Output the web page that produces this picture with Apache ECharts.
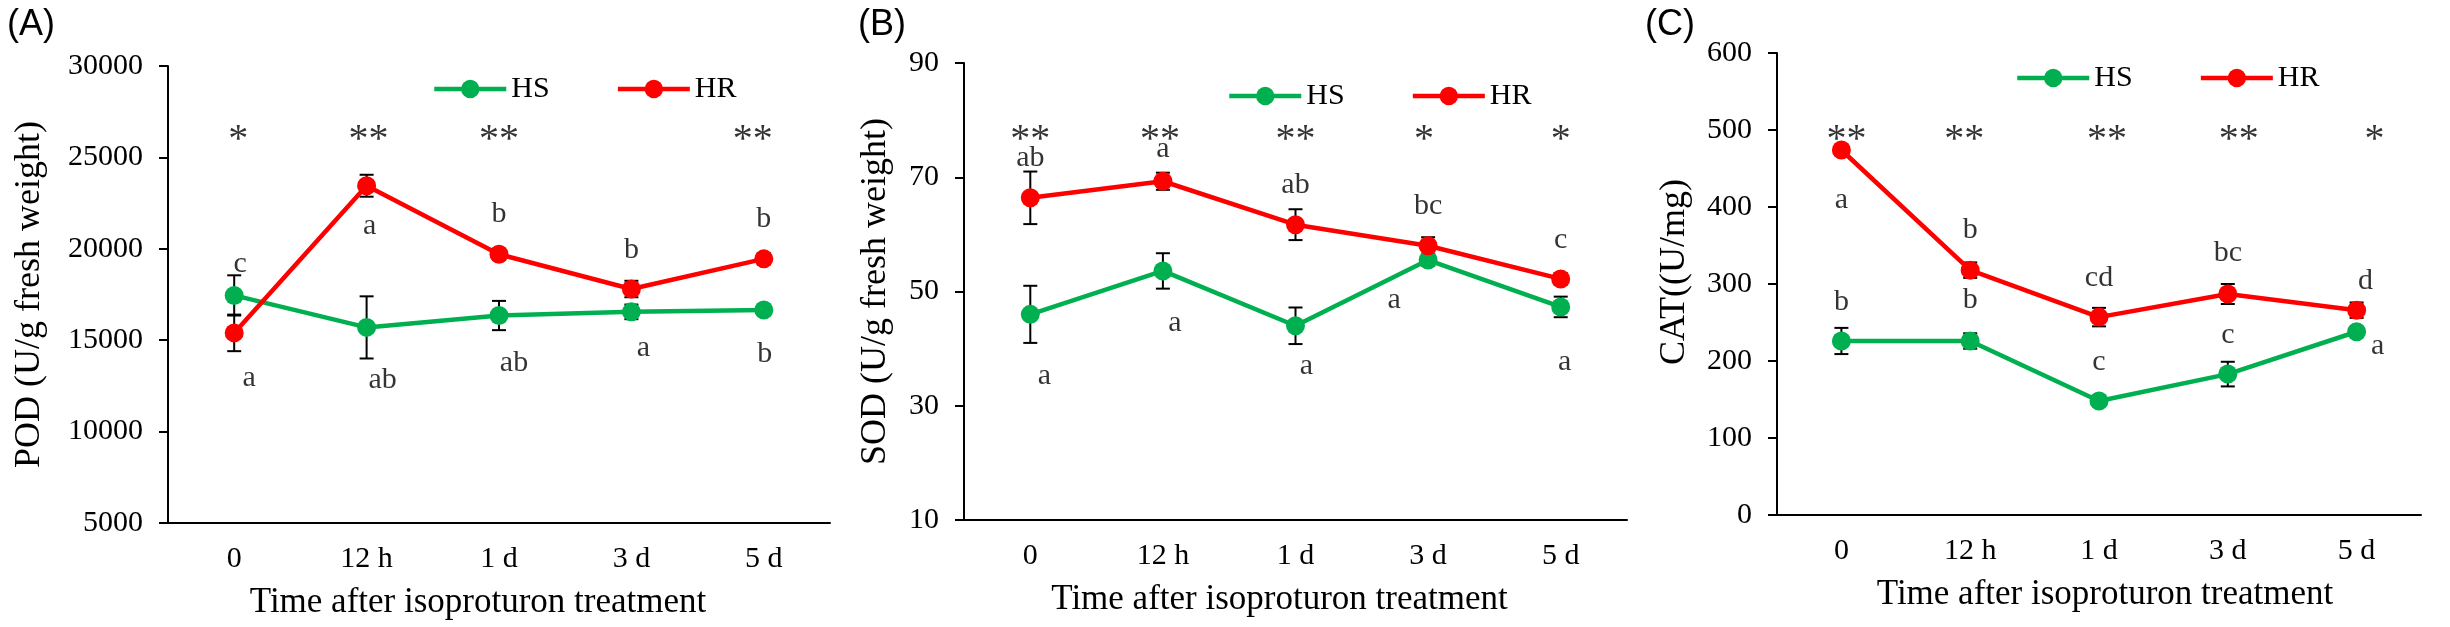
<!DOCTYPE html>
<html>
<head>
<meta charset="utf-8">
<script src="https://cdn.jsdelivr.net/npm/echarts@6/dist/echarts.min.js"></script>
<style>
  html, body { margin: 0; padding: 0; background: #fff; }
  #main { width: 2450px; height: 627px; }
</style>
</head>
<body>
<div id="main"></div>
<script>
// 横轴类别
var categories = ['0', '12 h', '1 d', '3 d', '5 d'];

// (A) POD
var podHS = [17450, 15700, 16350, 16550, 16650];
var podHSErr = [1100, 1700, 800, 400, 150];
var podHR = [15400, 23450, 19700, 17800, 19450];
var podHRErr = [1000, 600, 300, 450, 300];

// (B) SOD
var sodHS = [46.0, 53.6, 44.0, 55.5, 47.3];
var sodHSErr = [5.0, 3.1, 3.2, 1.0, 1.8];
var sodHR = [66.4, 69.3, 61.7, 58.0, 52.2];
var sodHRErr = [4.6, 1.5, 2.7, 1.5, 1.0];

// (C) CAT
var catHS = [226, 226, 148, 183, 238];
var catHSErr = [17, 10, 5, 16, 5];
var catHR = [474, 318, 257, 287, 266];
var catHRErr = [5, 10, 12, 13, 10];

// 显著性星号
var starsA = ['*', '**', '**', '', '**'];
var starsB = ['**', '**', '**', '*', '*'];
var starsC = ['**', '**', '**', '**', '*'];
var starLevelA = 26550, starLevelB = 78.4, starLevelC = 501;

// 字母标注 (上 / 下) 及其所在数值高度
var lettersTopA = ['c', 'a', 'b', 'b', 'b'];
var lettersTopAY = [19160, 21240, 21900, 19930, 21620];
var lettersBotA = ['a', 'ab', 'ab', 'a', 'b'];
var lettersBotAY = [12925, 12815, 13735, 14570, 14240];

var lettersTopB = ['ab', 'a', 'ab', 'bc', 'c'];
var lettersTopBY = [73.4, 74.9, 68.6, 65.0, 59.0];
var lettersBotB = ['a', 'a', 'a', 'a', 'a'];
var lettersBotBY = [35.2, 44.5, 37.0, 48.5, 37.7];

var lettersTopC = ['a', 'b', 'cd', 'bc', 'd'];
var lettersTopCY = [409, 370, 307, 340, 304];
var lettersBotC = ['b', 'b', 'c', 'c', 'a'];
var lettersBotCY = [276, 279, 199, 233, 219];

// 标注水平微调(px)
var shift = {
    starsA: [4, 2, 0, 0, -11], topA: [6, 3, 0, 0, 0], botA: [15, 16, 15, 12, 1],
    starsB: [0, -3, 0, -4, 0], topB: [0, 0, 0, 0, 0], botB: [14, 12, 11, -34, 4],
    starsC: [5, -6, 8, 11, 18], topC: [0, 0, 0, 0, 9], botC: [0, 0, 0, 0, 21]
};

var GREEN = '#00b050', RED = '#ff0000';
var SERIF = 'Liberation Serif, Times New Roman, serif';

function errorBars(idx, values, errs) {
    return {
        type: 'custom',
        xAxisIndex: idx,
        yAxisIndex: idx,
        z: 1,
        silent: true,
        data: values.map(function (v, i) { return [i, v, errs[i]]; }),
        renderItem: function (params, api) {
            var x = api.value(0), y = api.value(1), e = api.value(2);
            var hi = api.coord([x, y + e]);
            var lo = api.coord([x, y - e]);
            var w = 7;
            var st = { stroke: '#000', lineWidth: 2 };
            return {
                type: 'group',
                children: [
                    { type: 'line', shape: { x1: hi[0], y1: hi[1], x2: lo[0], y2: lo[1] }, style: st },
                    { type: 'line', shape: { x1: hi[0] - w, y1: hi[1], x2: hi[0] + w, y2: hi[1] }, style: st },
                    { type: 'line', shape: { x1: lo[0] - w, y1: lo[1], x2: lo[0] + w, y2: lo[1] }, style: st }
                ]
            };
        }
    };
}

function lineSeries(idx, name, values, color) {
    return {
        name: name,
        type: 'line',
        xAxisIndex: idx,
        yAxisIndex: idx,
        z: 2,
        symbol: 'circle',
        symbolSize: 19,
        lineStyle: { color: color, width: 4.5 },
        itemStyle: { color: color },
        data: values
    };
}

function textSeries(idx, texts, ys, dx, size) {
    return {
        type: 'scatter',
        xAxisIndex: idx,
        yAxisIndex: idx,
        z: 5,
        silent: true,
        symbolSize: 0,
        data: texts.map(function (t, i) {
            return {
                value: [i, ys.length ? ys[i] : ys],
                label: { formatter: t, offset: [dx[i], size > 34 ? 11 : 0] }
            };
        }),
        label: {
            show: true,
            position: 'inside',
            color: '#000',
            fontFamily: SERIF,
            fontSize: size
        }
    };
}

function xAxis(idx, padding) {
    return {
        type: 'category',
        gridIndex: idx,
        data: categories,
        boundaryGap: true,
        axisLine: { lineStyle: { color: '#000', width: 2 } },
        axisTick: { inside: true, length: 7, lineStyle: { color: '#000', width: 2 } },
        axisLabel: { color: '#000', fontFamily: SERIF, fontSize: 30, margin: 21 },
        splitLine: { show: false },
        name: 'Time after isoproturon treatment',
        nameLocation: 'middle',
        nameGap: 62,
        nameTextStyle: { color: '#000', fontFamily: SERIF, fontSize: 35, padding: padding }
    };
}

function yAxis(idx, name, min, max, interval, gap) {
    return {
        type: 'value',
        gridIndex: idx,
        min: min,
        max: max,
        interval: interval,
        axisLine: { show: true, lineStyle: { color: '#000', width: 2 } },
        axisTick: { show: true, length: 9, lineStyle: { color: '#000', width: 2 } },
        axisLabel: {
            color: '#000', fontFamily: SERIF, fontSize: 30, margin: 25,
            formatter: function (v) { return String(v); }
        },
        splitLine: { show: false },
        name: name,
        nameLocation: 'middle',
        nameRotate: 90,
        nameGap: gap,
        nameTextStyle: { color: '#000', fontFamily: SERIF, fontSize: 36 }
    };
}

function legend(left, top) {
    return {
        left: left,
        top: top,
        itemWidth: 72,
        itemHeight: 23,
        itemGap: 66,
        data: ['HS', 'HR'],
        lineStyle: { width: 4.5 },
        textStyle: { color: '#000', fontFamily: SERIF, fontSize: 30 }
    };
}

var chart = echarts.init(document.getElementById('main'));

var option = {
    animation: false,
    title: [
        { text: '(A)', left: 2, top: 2, textStyle: { fontFamily: 'Liberation Sans, Arial', fontSize: 36, fontWeight: 'normal', color: '#000' } },
        { text: '(B)', left: 853, top: 2, textStyle: { fontFamily: 'Liberation Sans, Arial', fontSize: 36, fontWeight: 'normal', color: '#000' } },
        { text: '(C)', left: 1640, top: 2, textStyle: { fontFamily: 'Liberation Sans, Arial', fontSize: 36, fontWeight: 'normal', color: '#000' } }
    ],
    // (C) 的纵轴标题略偏上，单独放
    graphic: [{
        type: 'text',
        x: 1675,
        y: 272,
        rotation: Math.PI / 2,
        style: {
            text: 'CAT((U/mg)',
            fill: '#000',
            font: '36px Liberation Serif, Times New Roman, serif',
            align: 'center',
            verticalAlign: 'middle'
        }
    }],
    legend: [legend(427, 69), legend(1222, 76), legend(2010, 58)],
    grid: [
        { left: 168, top: 66, width: 662, height: 457 },
        { left: 964, top: 63, width: 663, height: 457 },
        { left: 1777, top: 53, width: 644, height: 462 }
    ],
    xAxis: [xAxis(0, [0, 42, 0, 0]), xAxis(1, [0, 32, 0, 0]), xAxis(2, [0, 0, 0, 12])],
    yAxis: [
        yAxis(0, 'POD (U/g fresh weight)', 5000, 30000, 5000, 120),
        yAxis(1, 'SOD (U/g fresh weight)', 10, 90, 20, 70),
        yAxis(2, '', 0, 600, 100, 85)
    ],
    series: [
        errorBars(0, podHS, podHSErr), errorBars(0, podHR, podHRErr),
        lineSeries(0, 'HS', podHS, GREEN), lineSeries(0, 'HR', podHR, RED),
        textSeries(0, starsA, starLevelA, shift.starsA, 40),
        textSeries(0, lettersTopA, lettersTopAY, shift.topA, 30),
        textSeries(0, lettersBotA, lettersBotAY, shift.botA, 30),

        errorBars(1, sodHS, sodHSErr), errorBars(1, sodHR, sodHRErr),
        lineSeries(1, 'HS', sodHS, GREEN), lineSeries(1, 'HR', sodHR, RED),
        textSeries(1, starsB, starLevelB, shift.starsB, 40),
        textSeries(1, lettersTopB, lettersTopBY, shift.topB, 30),
        textSeries(1, lettersBotB, lettersBotBY, shift.botB, 30),

        errorBars(2, catHS, catHSErr), errorBars(2, catHR, catHRErr),
        lineSeries(2, 'HS', catHS, GREEN), lineSeries(2, 'HR', catHR, RED),
        textSeries(2, starsC, starLevelC, shift.starsC, 40),
        textSeries(2, lettersTopC, lettersTopCY, shift.topC, 30),
        textSeries(2, lettersBotC, lettersBotCY, shift.botC, 30)
    ]
};

chart.setOption(option);
</script>
</body>
</html>
